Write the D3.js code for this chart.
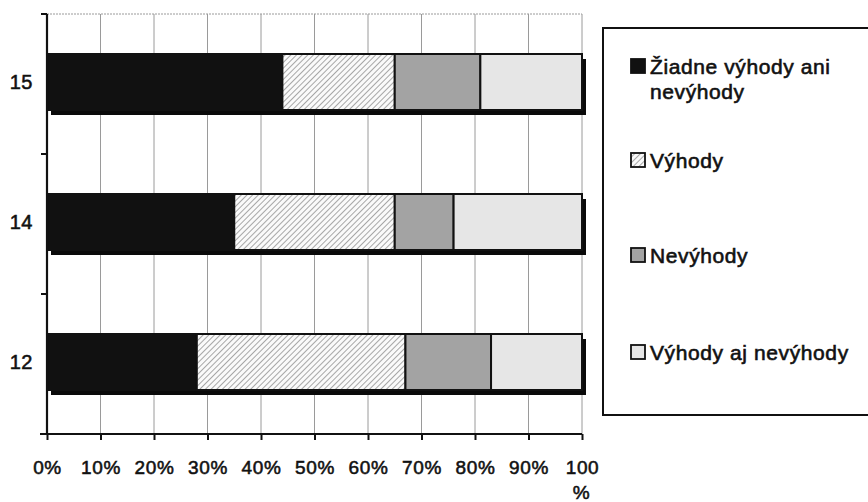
<!DOCTYPE html>
<html>
<head>
<meta charset="utf-8">
<script src="https://cdn.jsdelivr.net/npm/d3@7"></script>
<style>
  html, body { margin: 0; padding: 0; background: #fff; }
  svg text { font-family: "Liberation Sans", Arial, sans-serif; fill: #111; }
</style>
</head>
<body>
<svg id="chart" width="868" height="502"></svg>
<script>
// Age groups (top to bottom) and the share of each answer, in %
const categories = ["15", "14", "12"];
const seriesNames = ["Žiadne výhody ani nevýhody", "Výhody", "Nevýhody", "Výhody aj nevýhody"];
const zeroAdvantages = [44, 35, 28];
const advantages     = [21, 30, 39];
const disadvantages  = [16, 11, 16];
const both           = [19, 24, 17];
const tickValues = [0, 10, 20, 30, 40, 50, 60, 70, 80, 90, 100];
const tickLabels = ["0%", "10%", "20%", "30%", "40%", "50%", "60%", "70%", "80%", "90%", "100%"];

const series = [zeroAdvantages, advantages, disadvantages, both];
const fills = ["#111111", "url(#hatch)", "#a3a3a3", "#e6e6e6"];

const svg = d3.select("#chart");

// diagonal hatch for the "Výhody" segment
const defs = svg.append("defs");
const pat = defs.append("pattern")
  .attr("id", "hatch").attr("patternUnits", "userSpaceOnUse")
  .attr("width", 4).attr("height", 4)
  .attr("patternTransform", "rotate(45)");
pat.append("rect").attr("width", 4).attr("height", 4).attr("fill", "#fafafa");
pat.append("line").attr("x1", 0).attr("y1", 0).attr("x2", 0).attr("y2", 4)
  .attr("stroke", "#7a7a7a").attr("stroke-width", 1.3);

const plotLeft = 47, plotRight = 582, plotTop = 14, plotBottom = 434;
const x = d3.scaleLinear().domain([0, 100]).range([plotLeft, plotRight]);
const y = d3.scaleBand().domain(categories).range([plotTop, plotBottom]);

// grid lines
svg.append("g").selectAll("line").data(tickValues.slice(1)).join("line")
  .attr("x1", d => x(d)).attr("x2", d => x(d))
  .attr("y1", plotTop).attr("y2", plotBottom)
  .attr("stroke", "#9a9a9a").attr("stroke-width", 1);
svg.append("line")
  .attr("x1", plotLeft).attr("x2", plotRight).attr("y1", plotTop).attr("y2", plotTop)
  .attr("stroke", "#9a9a9a").attr("stroke-width", 1).attr("stroke-dasharray", "2,1");

// stacked rows
const rows = categories.map((c, i) => {
  let acc = 0;
  return series.map((s, k) => {
    const seg = { cat: c, k, x0: acc, x1: acc + s[i] };
    acc += s[i];
    return seg;
  });
});

const barTopOffset = 40, barH = 56;
const gBars = svg.append("g");
categories.forEach((c, i) => {
  const row = rows[i];
  const total = row[row.length - 1].x1;
  // drop shadow
  gBars.append("rect")
    .attr("x", x(0) + 4).attr("y", y(c) + barTopOffset + 5)
    .attr("width", x(total) - x(0)).attr("height", barH)
    .attr("fill", "#0a0a0a");
  gBars.selectAll(null).data(row).join("rect")
    .attr("x", d => x(d.x0)).attr("y", y(c) + barTopOffset)
    .attr("width", d => x(d.x1) - x(d.x0)).attr("height", barH)
    .attr("fill", d => fills[d.k])
    .attr("stroke", "#111").attr("stroke-width", 2);
});

// axes
const xAxis = d3.axisBottom(x).tickValues(tickValues)
  .tickFormat((d, i) => tickLabels[i]).tickSize(6).tickPadding(21);
const gx = svg.append("g").attr("transform", `translate(0,${plotBottom})`).call(xAxis);
gx.select(".domain").remove();
gx.selectAll(".tick line").attr("stroke", "#111").attr("stroke-width", 2);
gx.selectAll(".tick text")
  .attr("font-size", 19).attr("fill", "#111").attr("font-family", "Liberation Sans, Arial, sans-serif")
  .attr("letter-spacing", 0.6)
  .attr("stroke", "#111").attr("stroke-width", 0.55);
// the last label wraps onto two lines
gx.selectAll(".tick").filter(d => d === 100).select("text")
  .each(function () {
    const t = d3.select(this);
    const label = tickLabels[tickLabels.length - 1];
    t.text(null);
    t.append("tspan").attr("x", 0).text(label.slice(0, -1));
    t.append("tspan").attr("x", -1).attr("dy", "1.3em").text(label.slice(-1));
  });
svg.append("line").attr("x1", 40).attr("x2", plotRight).attr("y1", plotBottom).attr("y2", plotBottom)
  .attr("stroke", "#111").attr("stroke-width", 2.2);

const boundaries = [plotTop, ...categories.slice(1).map(c => y(c)), plotBottom];
svg.append("g").selectAll("line").data(boundaries).join("line")
  .attr("x1", plotLeft - 6).attr("x2", plotLeft).attr("y1", d => d).attr("y2", d => d)
  .attr("stroke", "#111").attr("stroke-width", 2);
svg.append("line").attr("x1", plotLeft).attr("x2", plotLeft).attr("y1", plotTop).attr("y2", plotBottom)
  .attr("stroke", "#111").attr("stroke-width", 2.2);

svg.append("g").selectAll("text").data(categories).join("text")
  .attr("x", 33).attr("y", d => y(d) + y.bandwidth() / 2 - 2)
  .attr("dy", "0.35em").attr("text-anchor", "end")
  .attr("font-size", 20).attr("letter-spacing", 0.5)
  .attr("stroke", "#111").attr("stroke-width", 0.55)
  .text(d => d);

// legend
const lg = svg.append("g");
lg.append("rect").attr("x", 603).attr("y", 28).attr("width", 290).attr("height", 387)
  .attr("fill", "#fff").attr("stroke", "#111").attr("stroke-width", 2);
const legendY = [74, 168, 263, 360];
const legendLines = [["Žiadne výhody ani", "nevýhody"], ["Výhody"], ["Nevýhody"], ["Výhody aj nevýhody"]];
const items = lg.selectAll("g.item").data(seriesNames).join("g").attr("class", "item")
  .attr("transform", (d, i) => `translate(631,${legendY[i]})`);
items.append("rect").attr("x", 0).attr("y", -15).attr("width", 14).attr("height", 14)
  .attr("fill", (d, i) => fills[i]).attr("stroke", "#111").attr("stroke-width", 1.8);
items.append("text").attr("x", 19).attr("y", 0)
  .attr("font-size", 21).attr("letter-spacing", 0.6)
  .attr("stroke", "#111").attr("stroke-width", 0.6)
  .each(function (d, i) {
    const t = d3.select(this);
    legendLines[i].forEach((ln, j) => {
      t.append("tspan").attr("x", 19).attr("dy", j === 0 ? 0 : 25).text(ln);
    });
  });
</script>
</body>
</html>
